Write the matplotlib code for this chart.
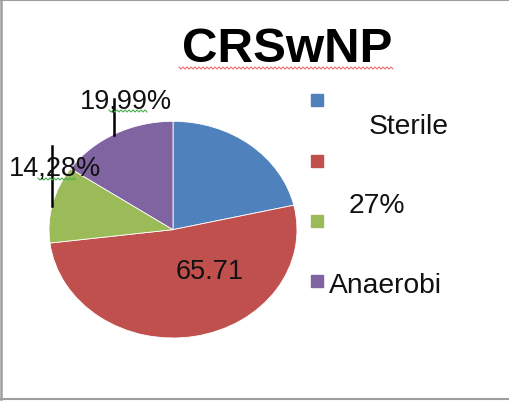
import numpy as np
import matplotlib
matplotlib.use("Agg")
import matplotlib.pyplot as plt
from matplotlib.lines import Line2D
from matplotlib.patches import Rectangle

# ---- data ----
title = "CRSwNP"
slice_values = [21.4, 51.7, 11.5, 15.5]          # blue, red, green, purple (share of circle)
slice_colors = ["#4F81BD", "#C0504D", "#9BBB59", "#8064A2"]
slice_labels = ["19,99%", "14,28%", "65.71"]
legend_texts = ["Sterile", "27%", "Anaerobi"]

W, H = 510, 402
fig = plt.figure(figsize=(W / 100, H / 100), dpi=100)
fig.patch.set_facecolor("white")
plt.rcParams["font.family"] = ["Liberation Sans", "DejaVu Sans"]


def fx(px):
    return px / W


def fy(py):
    return 1 - py / H


# pie axes covering the elliptical pie bounding box
left, right, top, bottom = 49, 297, 122.3, 339
ax = fig.add_axes([fx(left), fy(bottom), (right - left) / W, (bottom - top) / H])
ax.pie(slice_values, colors=slice_colors, startangle=90, counterclock=False,
       radius=1, wedgeprops=dict(edgecolor="white", linewidth=0.6))
ax.set_aspect("auto")
ax.set_xlim(-1, 1)
ax.set_ylim(-1, 1)
ax.axis("off")

# title
fig.text(fx(287), fy(62), title, fontsize=35.5, fontweight="bold",
         ha="center", va="baseline", color="black")

# slice labels
lab_pos = [(126, 109), (55, 176), (210, 279)]
for (x, y), t in zip(lab_pos, slice_labels):
    fig.text(fx(x), fy(y), t, fontsize=19.5, ha="center", va="baseline", color="#111111")

# leader lines
fig.add_artist(Line2D([fx(114), fx(114)], [fy(100), fy(136)], color="black", lw=1.8))
fig.add_artist(Line2D([fx(52), fx(52)], [fy(147), fy(207)], color="black", lw=1.8))


# spell-check squiggles
def squiggle(x0, x1, y, color):
    xs = np.arange(x0, x1 + 0.1, 2.0)
    ys = y + np.where(np.arange(len(xs)) % 2 == 0, -1.0, 1.0)
    fig.add_artist(Line2D(fx(xs), fy(ys), color=color, lw=0.8))


squiggle(179, 394, 69, "#F07070")
squiggle(109, 148, 112, "#4CAF50")
squiggle(38, 77, 180, "#4CAF50")

# legend markers
marker_y = [101, 162, 222, 282]
for y, c in zip(marker_y, slice_colors):
    fig.add_artist(Rectangle((fx(311), fy(y + 6)), 12 / W, 12 / H, color=c,
                             transform=fig.transFigure))

# legend texts
leg_pos = [(369, 134), (349, 213), (329, 293)]
for (x, y), t in zip(leg_pos, legend_texts):
    fig.text(fx(x), fy(y), t, fontsize=20.3, ha="left", va="baseline", color="#111111")

# chart border (left, top, bottom)
bc = "#9E9E9E"
fig.add_artist(Line2D([fx(1), fx(1)], [fy(0), fy(400)], color=bc, lw=1.8))
fig.add_artist(Line2D([fx(0), fx(W)], [fy(0.8), fy(0.8)], color=bc, lw=1.5))
fig.add_artist(Line2D([fx(0), fx(W)], [fy(399.5), fy(399.5)], color=bc, lw=1.5))

fig.savefig("out.png", dpi=100, facecolor="white")
